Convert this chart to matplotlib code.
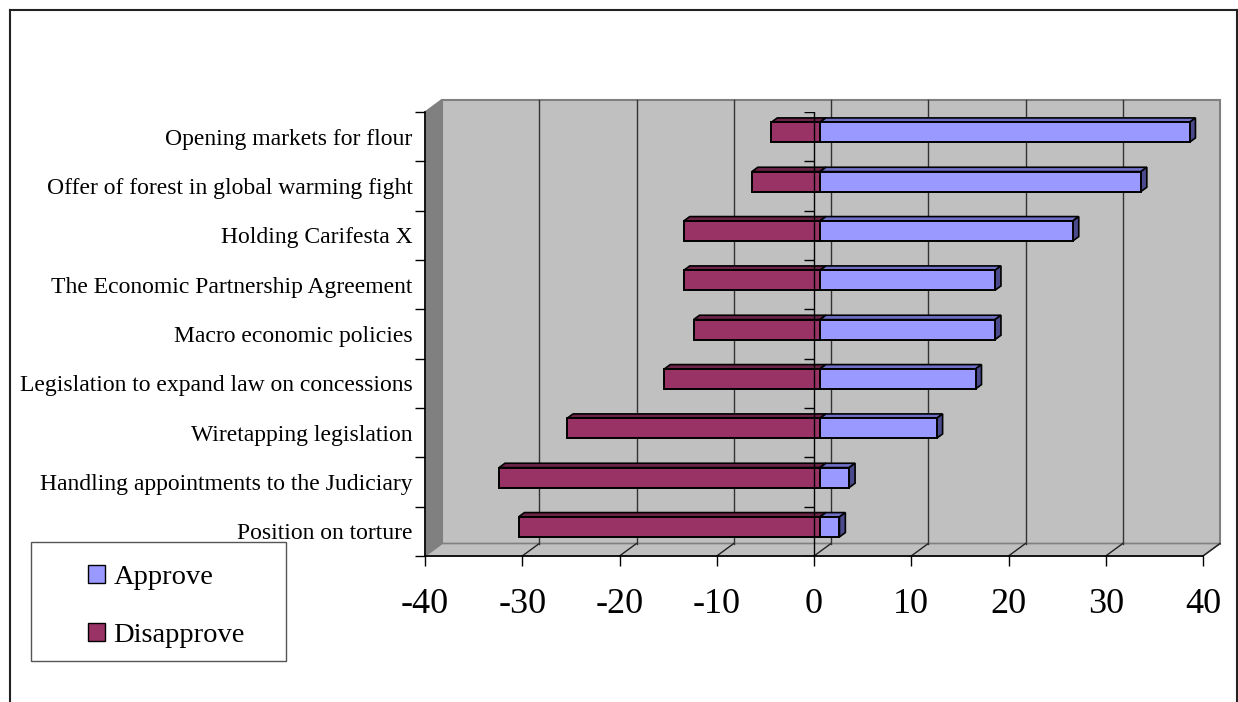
import numpy as np
import matplotlib.pyplot as plt
from matplotlib.patches import Polygon, Patch, Rectangle
from matplotlib.lines import Line2D

plt.rcParams['font.family'] = ['Liberation Serif', 'DejaVu Serif']

# survey items, listed top to bottom
categories = ['Opening markets for flour',
              'Offer of forest in global warming fight',
              'Holding Carifesta X',
              'The Economic Partnership Agreement',
              'Macro economic policies',
              'Legislation to expand law on concessions',
              'Wiretapping legislation',
              'Handling appointments to the Judiciary',
              'Position on torture']
approve = [38, 33, 26, 18, 18, 16, 12, 3, 2]
disapprove = [-5, -7, -14, -14, -13, -16, -26, -33, -31]
xticks = [-40, -30, -20, -10, 0, 10, 20, 30, 40]

W, H = 1238, 702
fig = plt.figure(figsize=(W / 100, H / 100), dpi=100)

# front plane of the plot box, in pixels
fx0, fx1, fy_top, fy_bot = 425, 1203, 112, 556
ax = fig.add_axes([fx0 / W, 1 - fy_bot / H, (fx1 - fx0) / W, (fy_bot - fy_top) / H])
n = len(categories)
ax.set_xlim(-40, 40)
ax.set_ylim(0, n)
ax.patch.set_visible(False)

pxx = 80 / (fx1 - fx0)          # value units per pixel
pxy = n / (fy_bot - fy_top)     # category units per pixel
DX, DY = 17 * pxx, 12.5 * pxy   # depth of the box
f1, f2 = 0.353, 0.70            # bar front/back depth fractions

wall = '#c0c0c0'
# back wall, side wall, floor
ax.add_patch(Polygon([(-40 + DX, DY), (40 + DX, DY), (40 + DX, n + DY), (-40 + DX, n + DY)],
                     closed=True, fc=wall, ec='#808080', lw=1.5, zorder=0, clip_on=False))
ax.add_patch(Polygon([(-40, 0), (-40 + DX, DY), (-40 + DX, n + DY), (-40, n)],
                     closed=True, fc='#808080', ec='#808080', lw=1, zorder=0.5, clip_on=False))
ax.add_patch(Polygon([(-40, 0), (40, 0), (40 + DX, DY), (-40 + DX, DY)],
                     closed=True, fc=wall, ec='#808080', lw=1.2, zorder=0.5, clip_on=False))
for v in xticks[1:]:
    ax.plot([v, v + DX], [0, DY], color='#222222', lw=1, zorder=0.6, clip_on=False)
    if v < 40:
        ax.plot([v + DX, v + DX], [DY, n + DY], color='#333333', lw=1, zorder=0.6, clip_on=False)

ypos = np.arange(n)[::-1] + 0.5
bh = 20 * pxy
ox, oy = f1 * DX, f1 * DY
dx, dy = (f2 - f1) * DX, (f2 - f1) * DY


def bars3d(vals, front, top, side):
    ax.barh(ypos + oy, vals, height=bh, left=ox, color=front, edgecolor='black',
            lw=1.4, zorder=2, clip_on=False)
    for y, v in zip(ypos + oy, vals):
        a, b = sorted([ox, ox + v])
        yt = y + bh / 2
        yb = y - bh / 2
        ax.add_patch(Polygon([(a, yt), (b, yt), (b + dx, yt + dy), (a + dx, yt + dy)],
                             closed=True, fc=top, ec='black', lw=1.2, zorder=1.8, clip_on=False))
        ax.add_patch(Polygon([(b, yb), (b, yt), (b + dx, yt + dy), (b + dx, yb + dy)],
                             closed=True, fc=side, ec='black', lw=1.2, zorder=1.8, clip_on=False))


bars3d(disapprove, '#993366', '#6e2448', '#4a1830')
bars3d(approve, '#9999ff', '#7070c8', '#4a4a8c')

# category axis crossing at zero
ax.axvline(0, color='black', lw=1, zorder=3)
ax.hlines(np.arange(n + 1), -10 * pxx, 0, color='black', lw=1, zorder=3)

for s in ['top', 'right']:
    ax.spines[s].set_visible(False)
for s in ['left', 'bottom']:
    ax.spines[s].set_color('black')
    ax.spines[s].set_linewidth(1.2)
    ax.spines[s].set_zorder(3)

ax.set_xticks(xticks)
ax.set_xticklabels([str(v) for v in xticks])
ax.tick_params(axis='x', direction='out', length=7, width=1, labelsize=26, pad=16)
ax.set_yticks(np.arange(n + 1))
ax.set_yticklabels([])
ax.set_yticks(ypos, minor=True)
ax.set_yticklabels(categories, minor=True)
ax.tick_params(axis='y', which='major', direction='out', length=7, width=1)
ax.tick_params(axis='y', which='minor', length=0, labelsize=17, pad=9)

# legend box and entries
fig.add_artist(Rectangle((31 / W, 1 - 661 / H), (286 - 31) / W, (661 - 542) / H,
                         transform=fig.transFigure, fc='white', ec='#555555', lw=1))
handles = [Patch(fc='#9999ff', ec='black', lw=1), Patch(fc='#993366', ec='black', lw=1)]
fig.legend(handles, ['Approve', 'Disapprove'], loc='upper left',
           bbox_to_anchor=(88 / W, 1 - 565 / H), bbox_transform=fig.transFigure,
           frameon=False, fontsize=20.5,
           handlelength=0.58, handleheight=0.58, handletextpad=0.32,
           labelspacing=1.15, borderpad=0, borderaxespad=0)

# outer chart frame
for xs, ys in [([10, 10], [10, 710]), ([10, 1237], [10, 10]), ([1237, 1237], [10, 710])]:
    fig.add_artist(Line2D([x / W for x in xs], [1 - y / H for y in ys], color='#222222',
                          lw=1.5, transform=fig.transFigure))

fig.savefig('out.png', dpi=100)
